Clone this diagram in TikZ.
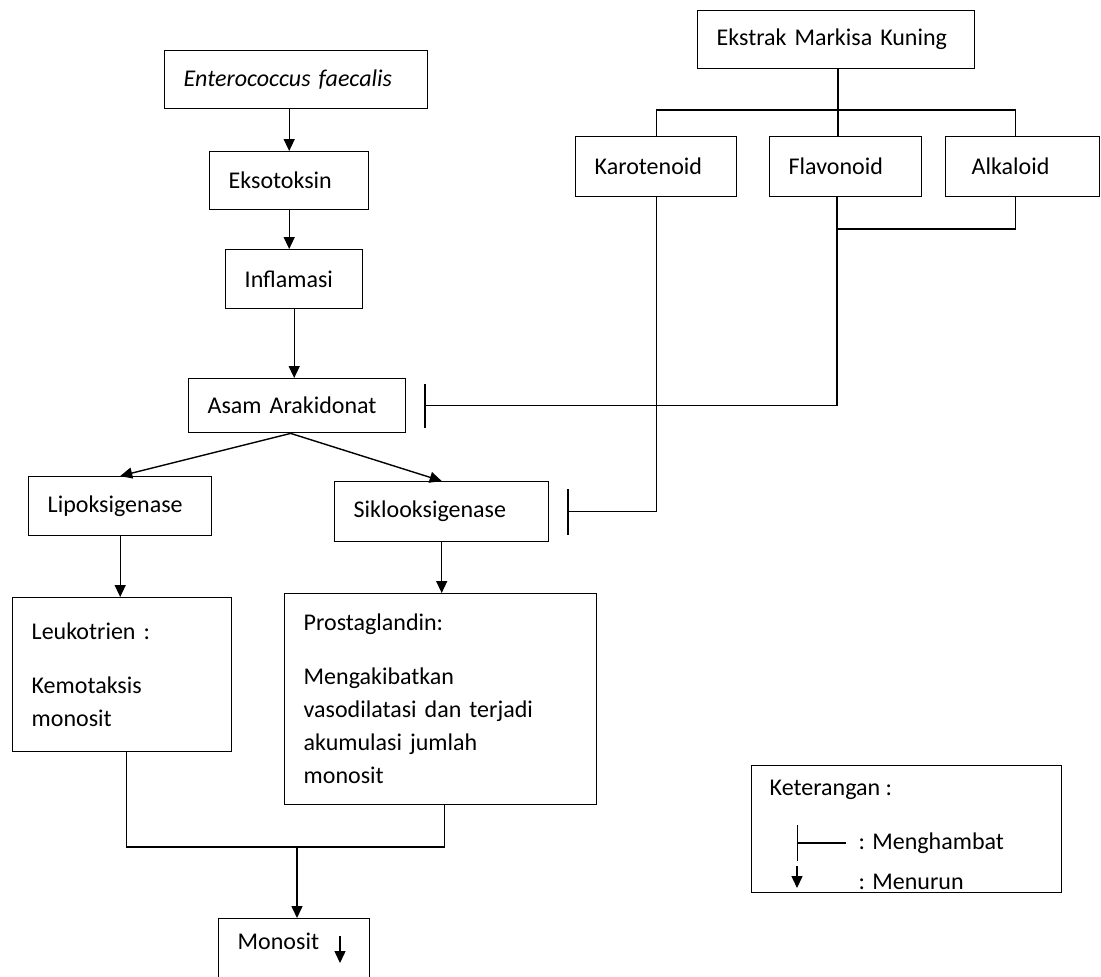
\documentclass[tikz,border=0pt]{standalone}
\usepackage{fontspec}
\setmainfont{Carlito}
\usetikzlibrary{arrows.meta}

\begin{document}
\begin{tikzpicture}[
    x=0.5pt, y=-0.5pt,
    line width=0.7pt,
    every node/.style={font=\fontsize{12}{16.5}\selectfont},
    box/.style={draw, rectangle, anchor=north west, inner xsep=9.5pt, align=left},
    arr/.style={-{Triangle[length=6pt,width=5.5pt]}},
    inh/.style={-{Bar[width=#1]}},
    inh/.default=22pt
  ]
  \useasboundingbox (0,0) rectangle (1101,976);

  % left column
  \node[box, text width=112.5pt, minimum height=29pt] (ent) at (164,50) {\textit{Enterococcus~faecalis}};
  \node[box, text width=60.5pt, minimum height=29pt] (eks) at (209,151) {Eksotoksin};
  \node[box, text width=49.5pt, minimum height=29.5pt] (inf) at (225,249) {Inflamasi};
  \node[box, text width=89.5pt, minimum height=27pt] (asam) at (188,378) {Asam~Arakidonat};
  \node[box, text width=72.5pt, minimum height=29.5pt] (lipo) at (28,476) {Lipoksigenase};
  \node[box, text width=88pt, minimum height=30pt] (siklo) at (334,481) {Siklooksigenase};
  \node[box, text width=90.5pt, minimum height=77pt] (leuko) at (12,597)
    {Leukotrien :\\[10.5pt]Kemotaksis\\monosit};
  \node[box, text width=137pt, minimum height=105.5pt] (prosta) at (284,593)
    {Prostaglandin:\\[10.5pt]Mengakibatkan\\vasodilatasi dan terjadi\\akumulasi jumlah\\monosit};
  \node[box, text width=56.5pt, text height=12pt, text depth=30pt] (mono) at (218,918) {Monosit};

  % right column
  \node[box, text width=119.5pt, minimum height=29pt] (emk) at (697,10) {Ekstrak~Markisa~Kuning};
  \node[box, text width=61.5pt, minimum height=30pt] (karo) at (575,136) {Karotenoid};
  \node[box, text width=57pt, minimum height=30pt] (fla) at (769,136) {Flavonoid};
  \node[box, inner xsep=13pt, text width=51pt, minimum height=30pt] (alka) at (945,136) {Alkaloid};

  % legend
  \node[draw, anchor=north west, minimum width=155pt, minimum height=63.5pt] (leg) at (751,765) {};
  \node[anchor=west, inner sep=0pt] (legjudul) at (769,790) {Keterangan :};
  \node[anchor=west, inner sep=0pt] (leghambat) at (858,843) {: Menghambat};
  \node[anchor=west, inner sep=0pt] (legturun) at (858,882) {: Menurun};

  % pathway arrows
  \draw[arr] (ent.south -| eks.north) -- (eks.north);
  \draw[arr] (eks.south) -- (eks.south |- inf.north);
  \draw[arr] (inf.south) -- (inf.south |- asam.north);
  \draw[arr] ([xshift=-3.25pt]asam.south) -- (lipo.north);
  \draw[arr] ([xshift=-3.25pt]asam.south) -- (siklo.north);
  \draw[arr] (lipo.south) -- (lipo.south |- leuko.north);
  \draw[arr] (siklo.south) -- (siklo.south |- prosta.north);
  \coordinate (gabung) at (297,847);
  \draw ([xshift=2.25pt]leuko.south) |- (gabung) -| ([xshift=2pt]prosta.south);
  \draw[arr] (gabung) -- (gabung |- mono.north);
  \coordinate (monoturun) at (340,936);
  \draw[arr] (monoturun) -- ++(0,27);

  % extract branches
  \coordinate (cabang) at (838,110);
  \draw (emk.south -| cabang) -- (cabang);
  \draw (karo.north) |- (cabang) -| ([xshift=-3.5pt]alka.north);
  \draw (cabang) -- (cabang |- fla.north);
  \coordinate (fsimpul) at (837,229);
  \draw ([xshift=-3.5pt]alka.south) |- (fsimpul);
  \draw[inh=22pt] (fla.south -| fsimpul) |- ([xshift=9pt]asam.east);
  \draw[inh=23pt] (karo.south) |- ([xshift=9pt]siklo.east);

  % legend symbols
  \coordinate (lghambat) at (846,843);
  \draw[inh=18pt] (lghambat) -- ++(-49,0);
  \coordinate (lgturun) at (797,866);
  \draw[arr] (lgturun) -- ++(0,22);
\end{tikzpicture}
\end{document}
